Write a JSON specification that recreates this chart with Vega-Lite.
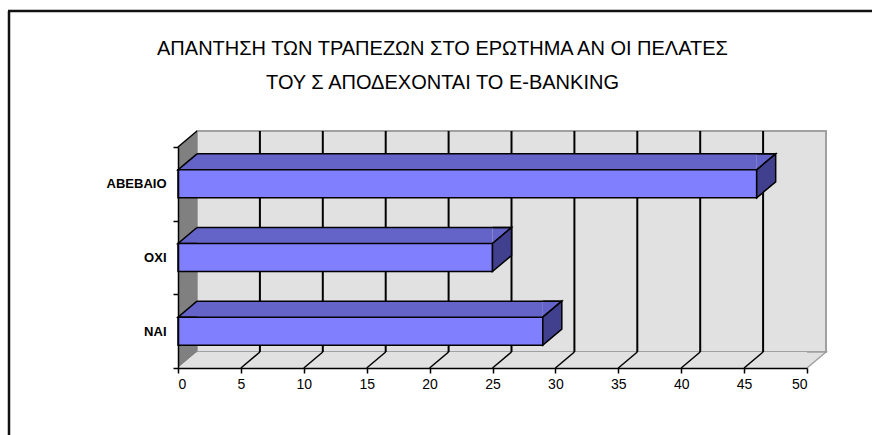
{
  "$schema": "https://vega.github.io/schema/vega-lite/v6.json",
  "autosize": "none",
  "padding": {"left": 178, "top": 147, "right": 65, "bottom": 67},
  "width": 629,
  "height": 221,
  "background": "white",
  "config": {"view": {"stroke": null}, "font": "Liberation Sans"},
  "title": {
    "text": ["ΑΠΑΝΤΗΣΗ ΤΩΝ ΤΡΑΠΕΖΩΝ ΣΤΟ ΕΡΩΤΗΜΑ ΑΝ ΟΙ ΠΕΛΑΤΕΣ", "ΤΟΥ Σ ΑΠΟΔΕΧΟΝΤΑΙ ΤΟ E-BANKING"],
    "anchor": "middle",
    "frame": "group",
    "dx": -50,
    "offset": -83,
    "lineHeight": 34,
    "font": "Liberation Sans",
    "fontSize": 20,
    "fontWeight": "normal",
    "color": "#000000"
  },
  "datasets": {
    "answers": [
      {"answer": "ΑΒΕΒΑΙΟ", "value": 46},
      {"answer": "ΟΧΙ", "value": 25},
      {"answer": "ΝΑΙ", "value": 29}
    ],
    "grid": [{"t": 5}, {"t": 10}, {"t": 15}, {"t": 20}, {"t": 25}, {"t": 30}, {"t": 35}, {"t": 40}, {"t": 45}],
    "one": [{}]
  },
  "encoding": {
    "x": {
      "type": "quantitative",
      "scale": {"domain": [0, 50], "nice": false, "zero": true},
      "axis": {
        "values": [0, 5, 10, 15, 20, 25, 30, 35, 40, 45, 50],
        "title": null, "grid": false, "zindex": 1,
        "domainColor": "#000000", "domainWidth": 1.5,
        "tickColor": "#000000", "tickWidth": 1.5, "tickSize": 5,
        "labelFont": "Liberation Sans", "labelFontSize": 14, "labelColor": "#000000", "labelPadding": 4
      }
    },
    "y": {
      "type": "nominal",
      "scale": {"type": "band", "domain": ["ΑΒΕΒΑΙΟ", "ΟΧΙ", "ΝΑΙ"], "paddingInner": 0, "paddingOuter": 0},
      "axis": {
        "title": null, "grid": false, "zindex": 1, "tickBand": "extent",
        "domainColor": "#000000", "domainWidth": 1.5,
        "tickColor": "#000000", "tickWidth": 1.5, "tickSize": 5,
        "labelFont": "Liberation Sans", "labelFontSize": 13, "labelFontWeight": "bold", "labelColor": "#000000", "labelPadding": 7
      }
    }
  },
  "layer": [
    {
      "data": {"name": "one"},
      "mark": {"type": "rect", "fill": "#e1e1e1", "stroke": "#a0a0a0", "strokeWidth": 2, "xOffset": 19, "x2Offset": 19, "yOffset": -16, "y2Offset": -16},
      "encoding": {"x": {"datum": 0}, "x2": {"datum": 50}, "y": {"value": 0}, "y2": {"value": "height"}}
    },
    {
      "data": {"name": "grid"},
      "mark": {"type": "rule", "stroke": "#000000", "strokeWidth": 2, "xOffset": 19, "x2Offset": 19, "yOffset": -16, "y2Offset": -16},
      "encoding": {"x": {"field": "t"}, "y": {"value": 0}, "y2": {"value": "height"}}
    },
    {
      "data": {"name": "one"},
      "mark": {"type": "rect", "fill": "#808080", "x2Offset": 19, "y2Offset": -16},
      "encoding": {"x": {"datum": 0}, "x2": {"datum": 0}, "y": {"value": 0}, "y2": {"value": "height"}}
    },
    {
      "data": {"name": "one"},
      "mark": {"type": "point", "shape": "M0,0 L19,-16 L19,0 Z", "size": 4, "filled": true, "fill": "#808080", "opacity": 1, "strokeWidth": 0},
      "encoding": {"x": {"datum": 0}, "y": {"value": 0}}
    },
    {
      "data": {"name": "one"},
      "mark": {"type": "point", "shape": "M0,0 L0,-16 L19,-16 Z", "size": 4, "filled": true, "fill": "#808080", "opacity": 1, "strokeWidth": 0},
      "encoding": {"x": {"datum": 0}, "y": {"value": "height"}}
    },
    {
      "data": {"name": "one"},
      "mark": {"type": "rule", "stroke": "#000000", "strokeWidth": 1.5, "x2Offset": 19, "y2Offset": -16},
      "encoding": {"x": {"datum": 0}, "x2": {"datum": 0}, "y": {"value": 0}, "y2": {"value": 0}}
    },
    {
      "data": {"name": "one"},
      "mark": {"type": "rect", "fill": "#e1e1e1", "xOffset": 19, "yOffset": -16},
      "encoding": {"x": {"datum": 0}, "x2": {"datum": 50}, "y": {"value": "height"}, "y2": {"value": "height"}}
    },
    {
      "data": {"name": "one"},
      "mark": {"type": "point", "shape": "M0,0 L19,0 L19,-16 Z", "size": 4, "filled": true, "fill": "#e1e1e1", "opacity": 1, "strokeWidth": 0},
      "encoding": {"x": {"datum": 0}, "y": {"value": "height"}}
    },
    {
      "data": {"name": "one"},
      "mark": {"type": "point", "shape": "M0,-16 L19,-16 L0,0", "size": 4, "filled": true, "fill": "#e1e1e1", "opacity": 1, "stroke": "#a0a0a0", "strokeWidth": 1.5},
      "encoding": {"x": {"datum": 50}, "y": {"value": "height"}}
    },
    {
      "data": {"name": "grid"},
      "mark": {"type": "rule", "stroke": "#000000", "strokeWidth": 1.5, "x2Offset": 19, "y2Offset": -16},
      "encoding": {"x": {"field": "t"}, "x2": {"field": "t"}, "y": {"value": "height"}, "y2": {"value": "height"}}
    },
    {
      "data": {"name": "answers"},
      "mark": {"type": "bar", "fill": "#6464c8", "size": 16, "yOffset": -22, "x2Offset": 19},
      "encoding": {"y": {"field": "answer"}, "x": {"field": "value"}, "x2": {"datum": 0}}
    },
    {
      "data": {"name": "answers"},
      "mark": {"type": "point", "shape": "M19,0 L0,0 L19,-16", "size": 4, "filled": true, "fill": "#6464c8", "opacity": 1, "stroke": "#000000", "strokeWidth": 1.5, "yOffset": -14},
      "encoding": {"y": {"field": "answer"}, "x": {"datum": 0}}
    },
    {
      "data": {"name": "answers"},
      "mark": {"type": "point", "shape": "M0,-16 L19,-16 L0,0", "size": 4, "filled": true, "fill": "#6464c8", "opacity": 1, "stroke": "#000000", "strokeWidth": 1.5, "yOffset": -14},
      "encoding": {"y": {"field": "answer"}, "x": {"field": "value"}}
    },
    {
      "data": {"name": "answers"},
      "mark": {"type": "rule", "stroke": "#000000", "strokeWidth": 1.5, "xOffset": 19, "x2Offset": 19, "yOffset": -30},
      "encoding": {"y": {"field": "answer"}, "x": {"field": "value"}, "x2": {"datum": 0}}
    },
    {
      "data": {"name": "answers"},
      "mark": {"type": "bar", "fill": "#8080ff", "stroke": "#000000", "strokeWidth": 1.5, "size": 28},
      "encoding": {"y": {"field": "answer"}, "x": {"field": "value"}}
    },
    {
      "data": {"name": "answers"},
      "mark": {"type": "point", "shape": "M0,-14 L19,-30 L19,-2 L0,14 Z", "size": 4, "filled": true, "fill": "#40408f", "opacity": 1, "stroke": "#000000", "strokeWidth": 1.5},
      "encoding": {"y": {"field": "answer"}, "x": {"field": "value"}}
    },
    {
      "data": {"name": "one"},
      "mark": {"type": "rule", "stroke": "#111111", "strokeWidth": 2.5},
      "encoding": {"x": {"value": -169}, "y": {"value": -136}, "y2": {"value": 300}}
    },
    {
      "data": {"name": "one"},
      "mark": {"type": "rule", "stroke": "#111111", "strokeWidth": 2.5},
      "encoding": {"y": {"value": -136}, "x": {"value": -170}, "x2": {"value": 720}}
    }
  ]
}
